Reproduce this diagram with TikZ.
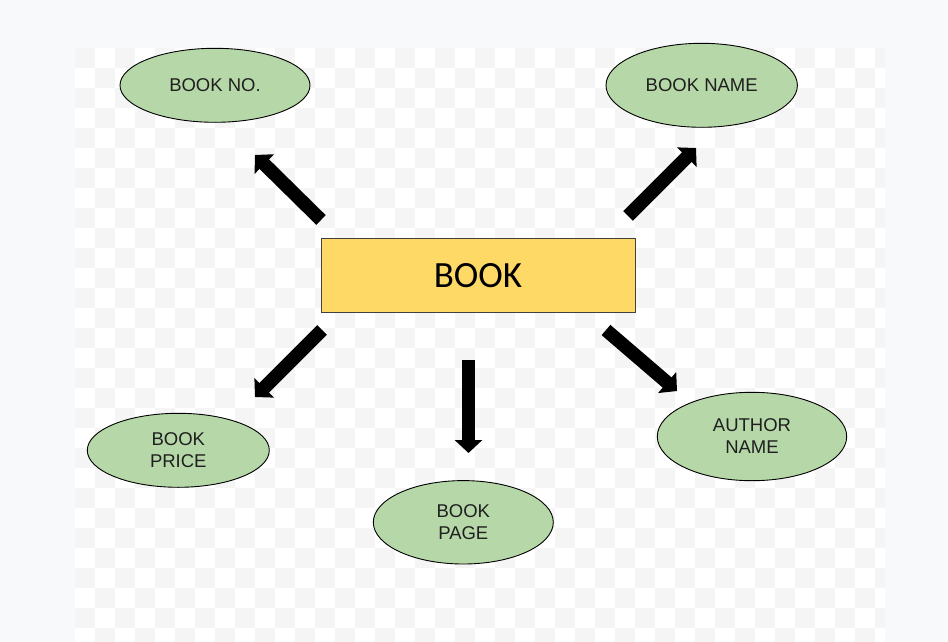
\documentclass[tikz,border=0pt]{standalone}
\usepackage{fontspec}
\setmainfont{Liberation Sans}
\newfontfamily\boxfont{Carlito}
\usetikzlibrary{arrows.meta,shapes.geometric}
\definecolor{pagebg}{HTML}{F8F9FB}
\definecolor{checkgray}{HTML}{F5F5F5}
\definecolor{attrgreen}{HTML}{B6D7A8}
\definecolor{entyellow}{HTML}{FFD966}
\definecolor{txt}{HTML}{1F1F1F}
\tikzset{
  attr/.style={ellipse, draw=black, line width=0.9pt, fill=attrgreen, inner sep=0pt,
    text=txt, align=center, font=\fontsize{18.5}{22}\selectfont},
  entity/.style={rectangle, draw=black!75, line width=0.9pt, fill=entyellow, inner sep=0pt,
    font=\boxfont\fontsize{37}{40}\selectfont},
  bigarrow/.style={line width=13.5pt, black, -{Triangle[width=27pt,length=13pt]}}
}
\begin{document}
\begin{tikzpicture}[x=1pt,y=-1pt]
\useasboundingbox (0,0) rectangle (948,642);
\fill[pagebg] (0,0) rectangle (948,642);
\begin{scope}
\clip (75,48) rectangle (885,642);
\fill[white] (75,48) rectangle (885,642);
\foreach \i in {0,...,40}{
  \foreach \j in {0,...,29}{
    \pgfmathtruncatemacro\parity{mod(\i+\j,2)}
    \ifnum\parity=0
      \fill[checkgray] ({75+20*\i},{48+20*\j}) rectangle ++(20,20);
    \fi
  }
}
\end{scope}

\node[entity, minimum width=314pt, minimum height=74pt] (book) at (478,275.3) {BOOK};
\node[attr, minimum width=190pt, minimum height=74pt] (bookno) at (215,85.3) {BOOK NO.};
\node[attr, minimum width=191.4pt, minimum height=84pt] (bookname) at (701.7,85.3) {BOOK NAME};
\node[attr, minimum width=182pt, minimum height=74pt] (bookprice) at (178.3,450.3) {BOOK\\PRICE};
\node[attr, minimum width=180pt, minimum height=83.4pt] (bookpage) at (463.3,522.3) {BOOK\\PAGE};
\node[attr, minimum width=189.4pt, minimum height=88.4pt] (author) at (752,436.5) {AUTHOR\\NAME};

\coordinate (s1) at (321,220); \coordinate (t1) at (255,155);
\coordinate (s2) at (628,216); \coordinate (t2) at (696,148);
\coordinate (s3) at (322,330); \coordinate (t3) at (255,397);
\coordinate (s4) at (468.5,360); \coordinate (t4) at (468.5,453);
\coordinate (s5) at (606,330); \coordinate (t5) at (677,391);

\draw[bigarrow] (s1) -- (t1);
\draw[bigarrow] (s2) -- (t2);
\draw[bigarrow] (s3) -- (t3);
\draw[bigarrow] (s4) -- (t4);
\draw[bigarrow] (s5) -- (t5);
\end{tikzpicture}
\end{document}
